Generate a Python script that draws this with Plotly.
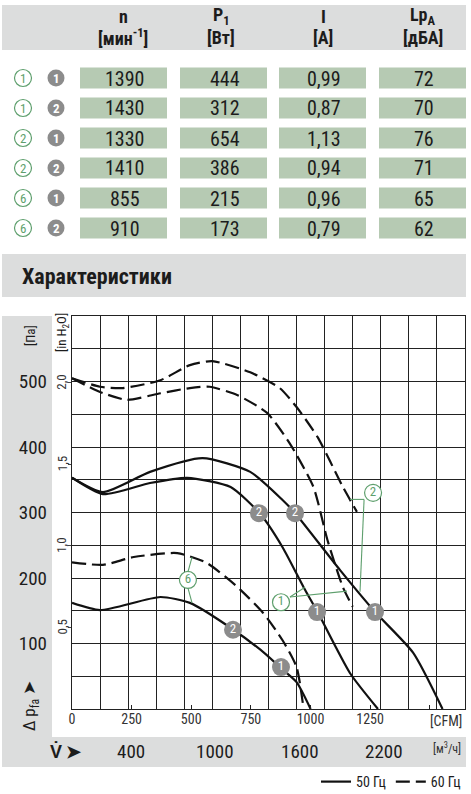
import plotly.graph_objects as go

# ---------------- data ----------------
# table
curve_ids = ["1", "1", "2", "2", "6", "6"]
point_ids = ["1", "2", "1", "2", "1", "2"]
speed_rpm = [1390, 1430, 1330, 1410, 855, 910]
power_w = [444, 312, 654, 386, 215, 173]
current_a = [0.99, 0.87, 1.13, 0.94, 0.96, 0.79]
noise_dba = [72, 70, 76, 71, 65, 62]

# characteristic curves: airflow [m3/h], static pressure [Pa]
c2_50_q = [0, 220, 556, 930, 1270, 1500, 1590, 1910, 2160, 2430, 2640]
c2_50_p = [353, 331, 362, 383, 362, 319, 299, 212, 148, 86, 0]
c1_50_q = [0, 220, 556, 820, 1130, 1340, 1500, 1650, 1750, 1980, 2180]
c1_50_p = [353, 328, 345, 353, 339, 298, 247, 186, 148, 55, 0]
c6_50_q = [0, 200, 630, 840, 1150, 1390, 1480, 1600, 1700]
c6_50_p = [162, 151, 171, 162, 121, 82, 64, 41, 0]
c2_60_q = [0, 200, 360, 630, 840, 1000, 1270, 1480, 1600, 1750, 1930, 2030]
c2_60_p = [505, 492, 490, 502, 525, 531, 514, 490, 461, 415, 339, 301]
c1_60_q = [0, 200, 390, 630, 840, 980, 1180, 1390, 1550, 1720, 1820, 1930, 2000]
c1_60_p = [505, 484, 472, 482, 490, 492, 479, 452, 406, 339, 258, 186, 156]
c6_60_q = [0, 220, 440, 750, 960, 1180, 1360, 1500, 1600, 1650]
c6_60_p = [224, 220, 232, 238, 223, 186, 147, 105, 64, 0]

# operating points (gray markers)
op2_q = [1332, 1589, 1147]
op2_p = [299, 299, 121]
op1_q = [1746, 2159, 1489]
op1_p = [148, 148, 64]

# curve labels (green markers)
lab_text = ["2", "1", "6"]
lab_q = [2145, 1489, 826]
lab_p = [330, 163, 197]

# axis ticks
pa_ticks = [100, 200, 300, 400, 500]
inh2o_ticks = [0.5, 1.0, 1.5, 2.0]
cfm_ticks = [0, 250, 500, 750, 1000, 1250, 1500]
cfm_text = ["0", "250", "500", "750", "1000", "1250", ""]
m3h_labels = [400, 1000, 1600, 2200]
PA_PER_INH2O = 249.09
M3H_PER_CFM = 1.699

# ---------------- layout helpers ----------------
W, H = 471, 794
L, R, T, B = 72, 465, 316, 709
def fx(px):
    return (px - L) / (R - L)
def fy(py):
    return (B - py) / (B - T)

FONT = "Roboto Condensed, Liberation Sans Narrow, Liberation Sans, Arial"
BAND = "#dcdddd"
CELL = "#b6cab3"
GREEN = "#5e9f6d"
GRAYC = "#8c8c8c"
INK = "#1c1c1c"

fig = go.Figure()

def curve(q, p, dash, name=None, show=False):
    fig.add_trace(go.Scatter(
        x=q, y=p, mode="lines", line=dict(color="#111111", width=2.2, dash=dash, shape="spline", smoothing=0.6),
        name=name, showlegend=show, hoverinfo="skip"))

curve(c2_50_q, c2_50_p, "solid", "50 Гц", True)
curve(c1_50_q, c1_50_p, "solid")
curve(c6_50_q, c6_50_p, "solid")
curve(c2_60_q, c2_60_p, "14px,6px", "60 Гц", True)
curve(c1_60_q, c1_60_p, "14px,6px")
curve(c6_60_q, c6_60_p, "14px,6px")

shapes = []
ann = []

# leader lines of curve labels
leaders = [
    ((2081, 320), (1981, 320)), ((2081, 320), (2052, 179)),
    ((1553, 171), (1959, 180)), ((1553, 171), (1660, 186)),
    ((826, 209), (855, 232)), ((826, 185), (855, 162)),
]
for (a, b) in leaders:
    shapes.append(dict(type="line", xref="x", yref="y", x0=a[0], y0=a[1], x1=b[0], y1=b[1],
                       line=dict(color=GREEN, width=1.1)))

fig.add_trace(go.Scatter(x=op2_q, y=op2_p, mode="markers+text", text=["2"] * 3,
                         textposition="middle center",
                         marker=dict(size=18, color=GRAYC, line=dict(width=0)),
                         textfont=dict(color="white", size=13, family=FONT), showlegend=False, hoverinfo="skip"))
fig.add_trace(go.Scatter(x=op1_q, y=op1_p, mode="markers+text", text=["1"] * 3,
                         textposition="middle center",
                         marker=dict(size=18, color=GRAYC, line=dict(width=0)),
                         textfont=dict(color="white", size=13, family=FONT), showlegend=False, hoverinfo="skip"))
fig.add_trace(go.Scatter(x=lab_q, y=lab_p, mode="markers+text", text=lab_text,
                         textposition="middle center",
                         marker=dict(size=17, color="white", line=dict(width=1.2, color=GREEN)),
                         textfont=dict(color=GREEN, size=13, family=FONT), showlegend=False, hoverinfo="skip"))

# invisible traces to activate overlay axes
fig.add_trace(go.Scatter(x=[0], y=[0], xaxis="x2", yaxis="y", mode="markers",
                         marker=dict(opacity=0), showlegend=False, hoverinfo="skip"))
fig.add_trace(go.Scatter(x=[0], y=[0], xaxis="x", yaxis="y2", mode="markers",
                         marker=dict(opacity=0), showlegend=False, hoverinfo="skip"))
fig.add_trace(go.Scatter(x=[0], y=[0], xaxis="x", yaxis="y3", mode="markers",
                         marker=dict(opacity=0), showlegend=False, hoverinfo="skip"))


def rect(x0, y0, x1, y1, color):
    shapes.append(dict(type="rect", xref="paper", yref="paper", x0=fx(x0), x1=fx(x1),
                       y0=fy(y1), y1=fy(y0), fillcolor=color, line=dict(width=0), layer="below"))

def circ(cx, cy, r, fill, line_color, lw):
    shapes.append(dict(type="circle", xref="paper", yref="paper", x0=fx(cx - r), x1=fx(cx + r),
                       y0=fy(cy + r), y1=fy(cy - r), fillcolor=fill,
                       line=dict(color=line_color, width=lw)))

def text(px, py, s, size=14, color=INK, bold=False, angle=0, xanchor="center", family=FONT):
    if bold:
        s = "<b>" + s + "</b>"
    ann.append(dict(xref="paper", yref="paper", x=fx(px), y=fy(py), text=s, showarrow=False,
                    font=dict(size=size, color=color, family=family), textangle=angle,
                    xanchor=xanchor, yanchor="middle"))

# header band
rect(2, 5, 466, 50, BAND)
hdr_x = [123, 221, 323, 423]
hdr1 = ["n", "P<sub>1</sub>", "I", "Lp<sub>A</sub>"]
hdr2 = ["[мин<sup>-1</sup>]", "[Вт]", "[А]", "[дБА]"]
for x, a, b in zip(hdr_x, hdr1, hdr2):
    text(x, 16, a, size=18, bold=True)
    text(x, 37, b, size=18, bold=True)

# table rows
cells_x = [(80, 167), (180, 267), (279, 366), (379, 466)]
for i in range(len(speed_rpm)):
    cy = 78 + 30 * i
    vals = [str(speed_rpm[i]), str(power_w[i]), f"{current_a[i]:.2f}".replace(".", ","), str(noise_dba[i])]
    for (x0, x1), v in zip(cells_x, vals):
        rect(x0, cy - 10.5, x1, cy + 10.5, CELL)
        text((x0 + x1) / 2 + 1.5, cy + 0.5, v, size=20)
    circ(23, cy, 8.5, "white", GREEN, 1.2)
    text(23, cy + 0.5, curve_ids[i], size=13, color=GREEN)
    circ(56, cy, 8.5, GRAYC, GRAYC, 0)
    text(56, cy + 0.5, point_ids[i], size=13, color="white", bold=True)

# title band
rect(2, 254, 466, 297, BAND)
text(20, 276, "Характеристики", size=22, bold=True, xanchor="left")

# side and bottom bands
rect(2, 316, 52, 767, BAND)
rect(2, 737, 466, 767, BAND)

text(30, 336, "[Па]", size=13, angle=-90)
text(62, 333, "[in H<sub>2</sub>O]", size=13, angle=-90)
for v in inh2o_ticks:
    ann.append(dict(xref="paper", yref="y", x=fx(62), y=v * PA_PER_INH2O,
                    text=f"{v:.1f}".replace(".", ","), showarrow=False, textangle=-90,
                    font=dict(size=13, color="#333333", family=FONT), xanchor="center", yanchor="middle"))
text(30, 706, "Δ p<sub>fa</sub> ➤", size=17, angle=-90)
text(66, 751, "V̇ ➤", size=18, bold=True)
for v in m3h_labels:
    ann.append(dict(xref="x", yref="paper", x=v, y=fy(751), xshift=3, text=str(v), showarrow=False,
                    font=dict(size=19, color=INK, family=FONT), xanchor="center", yanchor="middle"))
text(447, 748, "[м<sup>3</sup>/ч]", size=12, color="#333333")
text(446, 721, "[CFM]", size=14, color="#333333")

grid_x = list(range(0, 2801, 200))
grid_y = list(range(0, 601, 50))

fig.update_layout(
    shapes=shapes, annotations=ann,
    width=W, height=H,
    margin=dict(l=L, r=W - R, t=T, b=H - B, pad=0, autoexpand=False),
    paper_bgcolor="white", plot_bgcolor="white",
    font=dict(family=FONT, color=INK),
    xaxis=dict(range=[0, 2800], tickvals=grid_x, showticklabels=False, showgrid=True,
               gridcolor="#222222", gridwidth=1.1, zeroline=False, showline=True, linecolor="#222222",
               linewidth=1.3, mirror=True, ticks=""),
    xaxis2=dict(range=[0, 2800], overlaying="x", anchor="y", side="bottom",
                tickvals=[c * M3H_PER_CFM for c in cfm_ticks], ticktext=cfm_text,
                ticks="inside", ticklen=4, tickcolor="#222222", showgrid=False, zeroline=False,
                showline=False, tickfont=dict(size=14, color="#333333", family=FONT)),
    yaxis=dict(range=[0, 600], tickvals=grid_y, showticklabels=False, showgrid=True,
               gridcolor="#222222", gridwidth=1.1, zeroline=False, showline=True, linecolor="#222222",
               linewidth=1.3, mirror=True, ticks=""),
    yaxis2=dict(range=[0, 600], overlaying="y", anchor="x", side="left",
                tickvals=pa_ticks, ticktext=[str(v) for v in pa_ticks], ticklabelstandoff=24,
                showgrid=False, zeroline=False, showline=False, ticks="",
                tickfont=dict(size=19, color=INK, family=FONT)),
    yaxis3=dict(range=[0, 600], overlaying="y", anchor="x", side="left",
                tickvals=[v * PA_PER_INH2O for v in inh2o_ticks], showticklabels=False,
                ticks="outside", ticklen=3, tickcolor="#444444",
                showgrid=False, zeroline=False, showline=False),
    legend=dict(orientation="h", x=fx(466), xanchor="right", y=fy(782), yanchor="middle",
                font=dict(size=14, color=INK, family=FONT), bgcolor="rgba(0,0,0,0)",
                itemwidth=30, tracegroupgap=0),
    showlegend=True,
)

fig.write_html("out.html", config={"displayModeBar": False},
               post_script="document.body.style.margin='0';document.body.style.padding='0';")
